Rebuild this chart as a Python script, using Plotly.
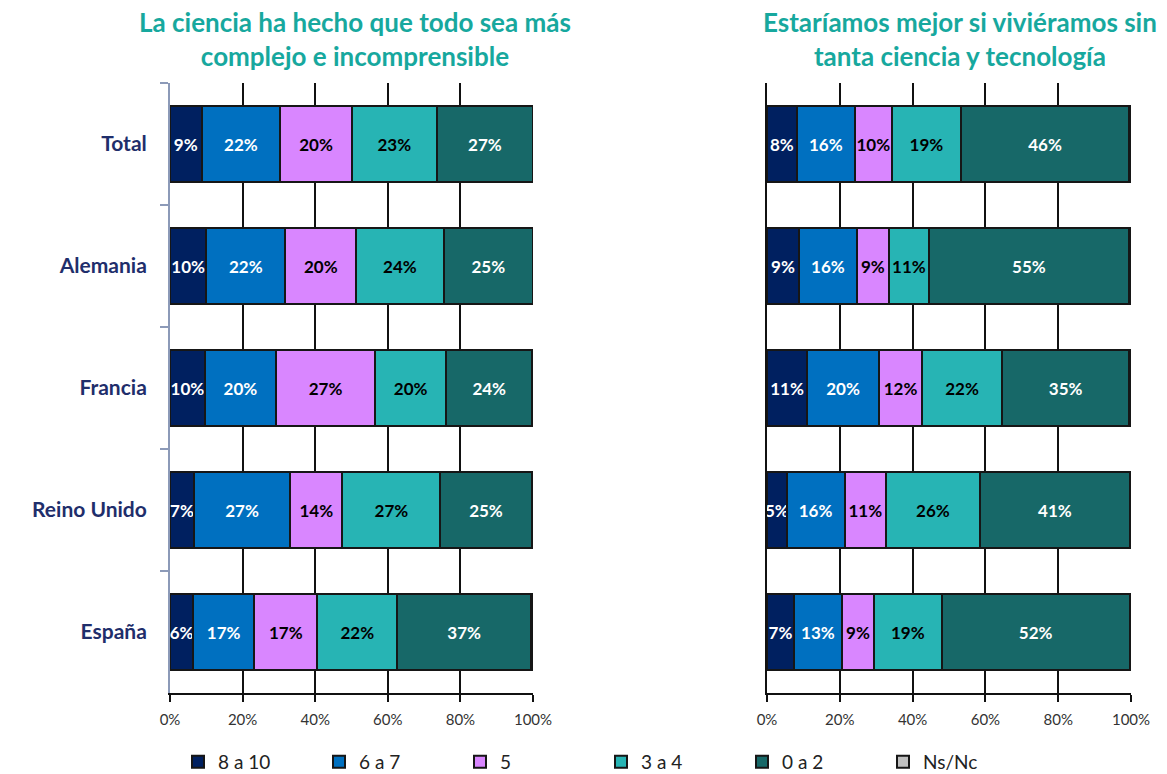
import plotly.graph_objects as go

countries = ["Total", "Alemania", "Francia", "Reino Unido", "España"]
series_names = ["8 a 10", "6 a 7", "5", "3 a 4", "0 a 2", "Ns/Nc"]
colors = ["#002060", "#0070C0", "#D986FF", "#27B4B4", "#176868", "#C0C0C0"]
text_colors = ["white", "white", "black", "black", "white", "black"]

title_left = "La ciencia ha hecho que todo sea más<br>complejo e incomprensible"
title_right = "Estaríamos mejor si viviéramos sin<br>tanta ciencia y tecnología"

# Left chart: "La ciencia ha hecho que todo sea más complejo e incomprensible"
left_8_10 = [8.7, 10.0, 9.6, 6.6, 6.4]
left_6_7 = [21.7, 21.8, 19.6, 26.5, 16.8]
left_5 = [19.7, 19.5, 27.3, 14.4, 17.4]
left_3_4 = [23.4, 24.1, 19.6, 27.0, 22.0]
left_0_2 = [26.5, 24.6, 23.7, 25.1, 36.9]
left_nsnc = [0.0, 0.0, 0.2, 0.4, 0.5]

# Right chart: "Estaríamos mejor si viviéramos sin tanta ciencia y tecnología"
right_8_10 = [8.2, 8.8, 11.0, 5.4, 7.4]
right_6_7 = [15.9, 15.9, 19.8, 15.9, 13.2]
right_5 = [10.2, 8.8, 11.8, 11.4, 8.8]
right_3_4 = [19.0, 11.0, 22.0, 25.8, 18.6]
right_0_2 = [46.2, 54.9, 34.9, 41.2, 51.6]
right_nsnc = [0.5, 0.6, 0.5, 0.3, 0.4]

x_ticks = [0, 20, 40, 60, 80, 100]
x_ticktext = ["0%", "20%", "40%", "60%", "80%", "100%"]

left_series = [left_8_10, left_6_7, left_5, left_3_4, left_0_2, left_nsnc]
right_series = [right_8_10, right_6_7, right_5, right_3_4, right_0_2, right_nsnc]

FONT = "Lato"
fig = go.Figure()

for side, series_list, xa, ya in [("L", left_series, "x", "y"), ("R", right_series, "x2", "y2")]:
    for i, (name, vals) in enumerate(zip(series_names, series_list)):
        is_ns = name == "Ns/Nc"
        fig.add_trace(go.Bar(
            y=countries,
            x=vals,
            name=name,
            orientation="h",
            xaxis=xa,
            yaxis=ya,
            width=0.63,
            marker=dict(color=colors[i], line=dict(color="#161616", width=2)),
            texttemplate="" if is_ns else "<b>%{x:.0f}%</b>",
            textposition="inside",
            textangle=0,
            insidetextanchor="middle",
            constraintext="none",
            insidetextfont=dict(family=FONT, size=17, color=text_colors[i]),
            showlegend=(side == "L"),
            hoverinfo="skip",
        ))

W, H = 1167, 774
xl = [170 / W, 533 / W]
xr = [767 / W, 1131 / W]
yd = [(H - 693) / H, (H - 83) / H]

xaxis_common = dict(
    range=[0, 100],
    tickvals=x_ticks,
    ticktext=x_ticktext,
    showgrid=True,
    gridcolor="#111111",
    gridwidth=2,
    zeroline=False,
    showline=True,
    linecolor="#111111",
    linewidth=2,
    ticks="outside",
    ticklen=7,
    tickwidth=2,
    tickcolor="#111111",
    ticklabelstandoff=5,
    tickfont=dict(family=FONT, size=15, color="#333333"),
    fixedrange=True,
    automargin=False,
)

fig.update_layout(
    width=W,
    height=H,
    margin=dict(l=0, r=0, t=0, b=0, autoexpand=False),
    paper_bgcolor="white",
    plot_bgcolor="white",
    barmode="stack",
    xaxis=dict(domain=xl, anchor="y", **xaxis_common),
    xaxis2=dict(domain=xr, anchor="y2", **xaxis_common),
    yaxis=dict(
        domain=yd,
        anchor="x",
        type="category",
        categoryorder="array",
        categoryarray=countries,
        autorange="reversed",
        showgrid=False,
        showline=True,
        linecolor="#8C9AB8",
        linewidth=2,
        ticks="outside",
        tickson="boundaries",
        ticklen=8,
        tickwidth=2,
        tickcolor="#8C9AB8",
        ticklabelstandoff=17,
        tickfont=dict(family=FONT, size=21, color="#1F2E6B", weight="bold"),
        fixedrange=True,
        automargin=False,
    ),
    yaxis2=dict(
        domain=yd,
        anchor="x2",
        type="category",
        categoryorder="array",
        categoryarray=countries,
        autorange="reversed",
        showgrid=False,
        showline=True,
        linecolor="#111111",
        linewidth=2,
        ticks="",
        showticklabels=False,
        fixedrange=True,
        automargin=False,
    ),
    legend=dict(
        orientation="h",
        x=178 / W,
        xanchor="left",
        y=12 / H,
        yanchor="middle",
        entrywidth=96,
        entrywidthmode="pixels",
        itemwidth=30,
        font=dict(family=FONT, size=19, color="#222222"),
        traceorder="normal",
        bgcolor="rgba(0,0,0,0)",
    ),
    annotations=[
        dict(text=title_left, x=355 / W, y=1 - 4 / H, xref="paper", yref="paper",
             xanchor="center", yanchor="top", showarrow=False,
             font=dict(family=FONT, size=26, color="#17A89E", weight="bold")),
        dict(text=title_right, x=960 / W, y=1 - 4 / H, xref="paper", yref="paper",
             xanchor="center", yanchor="top", showarrow=False,
             font=dict(family=FONT, size=26, color="#17A89E", weight="bold")),
    ],
)

fig.write_html(
    "out.html",
    config={"displayModeBar": False},
    post_script="document.body.style.margin='0';document.body.style.overflow='hidden';",
)
